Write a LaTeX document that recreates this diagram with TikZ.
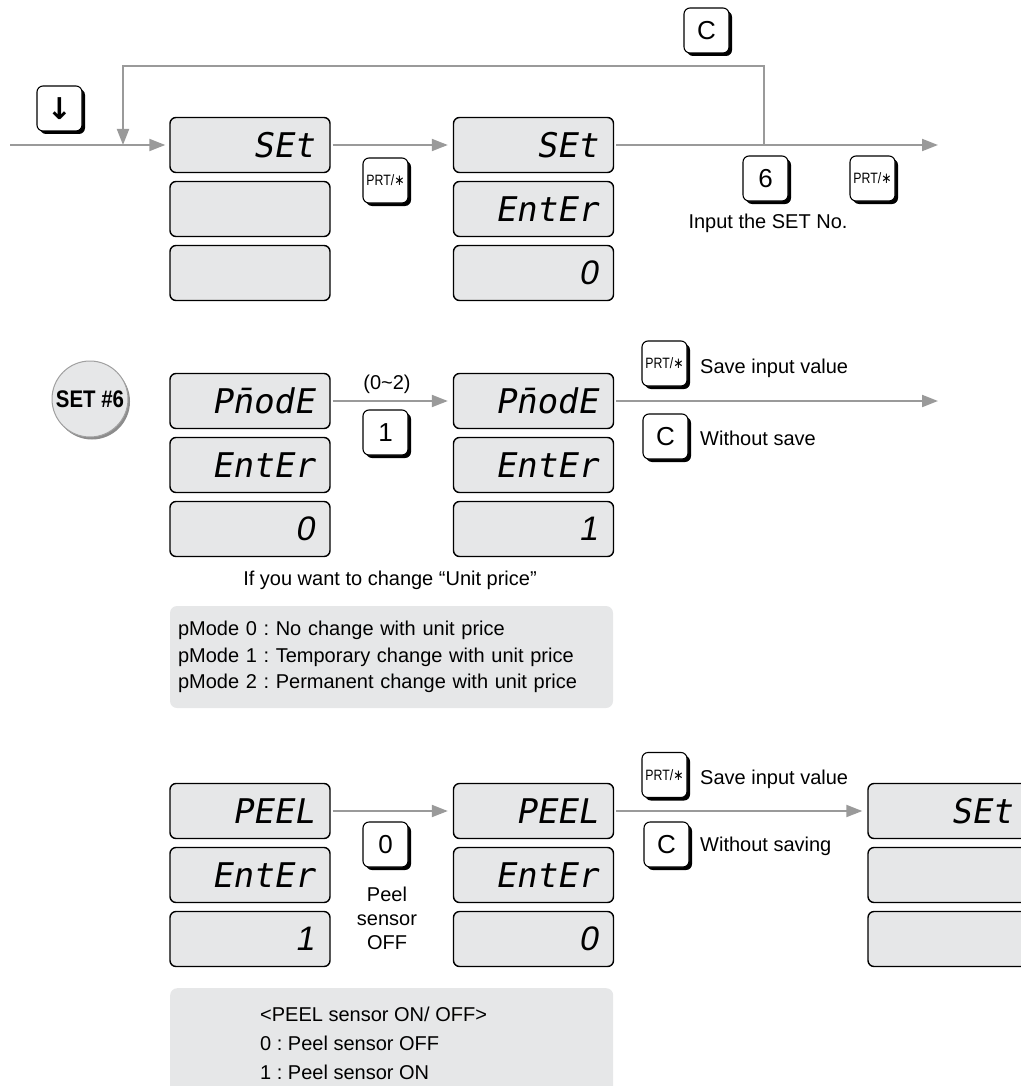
\documentclass[tikz,border=0pt]{standalone}
\usepackage{fontspec}
\usepackage{graphicx}
\setmainfont{Liberation Sans}
\newfontfamily\lcdfont[FakeSlant=0.18]{DejaVu Sans Mono}
\newfontfamily\lcdnum[FakeSlant=0.18]{Liberation Sans}
\newfontfamily\symfont{DejaVu Sans}
\usetikzlibrary{arrows.meta, shadows}
\definecolor{lcdgray}{HTML}{E6E7E8}
\definecolor{flowgray}{HTML}{9A9A9A}
\definecolor{badgeedge}{HTML}{A0A0A0}
\tikzset{
  lcd box/.style={draw=black, fill=lcdgray, line width=1.4pt, rounded corners=6pt,
    minimum height=55pt, text width=128pt, inner xsep=16pt, inner ysep=0pt, align=right,
    font=\lcdfont\fontsize{34}{34}\selectfont},
  key/.style={draw=black, fill=white, line width=1.1pt, rounded corners=6pt,
    minimum size=45pt, inner sep=0pt, font=\fontsize{26}{26}\selectfont,
    drop shadow={shadow xshift=3pt, shadow yshift=-3pt, fill=black, opacity=1}},
  prt key/.style={key, font=\fontsize{15}{15}\selectfont},
  badge/.style={circle, draw=badgeedge, fill=lcdgray, line width=1pt, minimum size=76pt,
    inner sep=0pt, font=\bfseries\fontsize{24}{24}\selectfont,
    drop shadow={shadow xshift=2pt, shadow yshift=-2.5pt, fill=black!45, opacity=1}},
  flow/.style={flowgray, line width=2pt, -{Triangle[length=16pt, width=12pt]}},
  to box/.style={shorten >=5pt, shorten <=2pt},
  note box/.style={fill=lcdgray, rounded corners=7pt, inner xsep=8pt, inner ysep=0pt, align=left},
  label/.style={inner sep=0pt, font=\fontsize{20}{24}\selectfont},
}
\newcommand{\drawLcdStack}[6]{
  \node[lcd box] (#1-1) at (#2,#3) {#4};
  \node[lcd box] (#1-2) at (#2,#3+64) {#5};
  \node[lcd box] (#1-3) at (#2,#3+128) {#6};
}
\newcommand{\prtText}{\scalebox{0.82}[1]{PRT/{\symfont ∗}}}
\frenchspacing

\begin{document}
\begin{tikzpicture}[x=1pt, y=-1pt]
  \useasboundingbox (0,0) rectangle (1020,1086);

  % top row: enter the SET menu
  \drawLcdStack{set}{250}{145}{SEt}{}{}
  \drawLcdStack{setIn}{533.5}{145}{SEt}{EntEr}{\lcdnum 0}
  \coordinate (entry) at (10,145);
  \coordinate (loopL) at (123,145);
  \coordinate (loopR) at (764,145);
  \coordinate (loopTop) at (764,66);
  \coordinate (exitSet) at (938,145);
  \draw[flow, shorten >=4pt] (entry) -- (set-1.west);
  \draw[flow] (loopR) -- (loopTop) -| (loopL);
  \draw[flow, to box] (set-1.east) -- (setIn-1.west);
  \draw[flow, shorten <=2pt] (setIn-1.east) -- (exitSet);
  \node[key] (kDown) at (59.5,108.5) {\symfont\bfseries\fontsize{30}{30}\selectfont ↓};
  \node[key] (kC1) at (706.5,30.5) {C};
  \node[prt key] (kPrt1) at (385.5,180.5) {\prtText};
  \node[key] (k6) at (765.5,178.5) {6};
  \node[prt key] (kPrt2) at (872.5,178.5) {\prtText};
  \node[label] (lblSetNo) at (768,223) {Input the SET No.};

  % middle row: SET #6, unit price mode
  \node[badge] (set6) at (90,399) {\scalebox{0.85}[1]{SET \#6}};
  \drawLcdStack{pm}{250}{401}{P\={n}odE}{EntEr}{\lcdnum 0}
  \drawLcdStack{pmIn}{533.5}{401}{P\={n}odE}{EntEr}{\lcdnum 1}
  \coordinate (exitPm) at (938,401);
  \draw[flow, to box] (pm-1.east) -- (pmIn-1.west);
  \draw[flow, shorten <=2pt] (pmIn-1.east) -- (exitPm);
  \node[label] (lblRange) at (387,384) {(0\textasciitilde 2)};
  \node[key] (k1) at (385.5,432.5) {1};
  \node[prt key] (kPrt3) at (664.5,363.5) {\prtText};
  \node[label, anchor=west] (lblSave1) at (700,368) {Save input value};
  \node[key] (kC2) at (665.5,436.5) {C};
  \node[label, anchor=west] (lblNoSave1) at (700,438) {Without save};
  \node[label] (lblUnit) at (390,580) {If you want to change “Unit price”};
  \node[note box, minimum width=443pt, minimum height=102pt, text width=427pt,
    font=\fontsize{20}{26.5}\selectfont] (pmNote) at (391.5,657)
    {pMode 0 : No change with unit price\\
     pMode 1 : Temporary change with unit price\\
     pMode 2 : Permanent change with unit price};

  % bottom row: peel sensor
  \drawLcdStack{peel}{250}{811}{PEEL}{EntEr}{\lcdnum 1}
  \drawLcdStack{peelIn}{533.5}{811}{PEEL}{EntEr}{\lcdnum 0}
  \drawLcdStack{setBack}{948}{811}{SEt}{}{}
  \draw[flow, to box] (peel-1.east) -- (peelIn-1.west);
  \draw[flow, to box] (peelIn-1.east) -- (setBack-1.west);
  \node[key] (k0) at (385.5,844.5) {0};
  \node[label, align=center] (lblPeelOff) at (387,918) {Peel\\sensor\\OFF};
  \node[prt key] (kPrt4) at (664.5,775) {\prtText};
  \node[label, anchor=west] (lblSave2) at (700,779) {Save input value};
  \node[key] (kC3) at (666.5,844.5) {C};
  \node[label, anchor=west] (lblNoSave2) at (700,846) {Without saving};
  \node[note box, minimum width=443pt, minimum height=112pt, anchor=north west] (peelNote) at (170,988) {};
  \node[label, anchor=west, align=left, font=\fontsize{20}{29}\selectfont] (peelText) at (260,1043)
    {<PEEL sensor ON/ OFF>\\0 : Peel sensor OFF\\1 : Peel sensor ON};
\end{tikzpicture}
\end{document}
